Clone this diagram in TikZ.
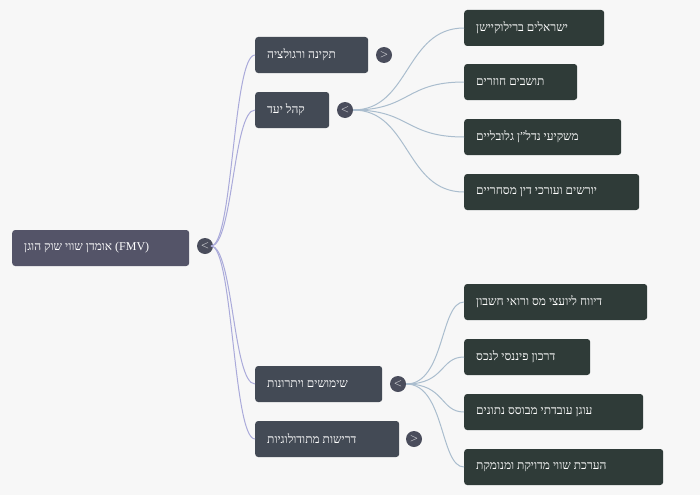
\documentclass[tikz,border=0pt]{standalone}
\usepackage{fontspec}
\setmainfont{Liberation Serif}
\begin{document}
\begin{tikzpicture}[x=1pt,y=-1pt,
  box/.style={rounded corners=3pt,text=white,font=\fontsize{12}{14}\selectfont,inner sep=0pt,align=flush left,anchor=west},
  rootb/.style={box,fill=rootc},
  lvl/.style={box,fill=lvlc},
  leaf/.style={box,fill=leafc},
  tog/.style={circle,fill=togc,text=white,inner sep=0pt,minimum size=16pt,font=\fontsize{11}{11}\selectfont\sffamily},
  e1/.style={draw=linea,line width=1pt},
  e2/.style={draw=lineb,line width=1pt}]
\definecolor{rootc}{HTML}{545468}
\definecolor{lvlc}{HTML}{434A55}
\definecolor{leafc}{HTML}{2F3B38}
\definecolor{togc}{HTML}{4A4D5C}
\definecolor{linea}{HTML}{AAAADA}
\definecolor{lineb}{HTML}{AABDCE}
\fill[fill={rgb,255:red,247;green,247;blue,247}] (0,0) rectangle (700,495);
\useasboundingbox (0,0) rectangle (700,495);
\node[rootb,minimum width=177pt,minimum height=36pt,text width=153pt] (root) at (12,248) {הוגן שוק שווי אומדן (FMV)};
\node[tog] (t0) at (205,246) {<};
\node[lvl,minimum width=113pt,minimum height=36pt,text width=89pt] (a) at (255,55) {ורגולציה תקינה};
\node[tog] (ta) at (384,55) {>};
\node[lvl,minimum width=74pt,minimum height=36pt,text width=50pt] (b) at (255,110) {יעד קהל};
\node[tog] (tb) at (345,110) {<};
\node[lvl,minimum width=127pt,minimum height=36pt,text width=103pt] (c) at (255,384) {ויתרונות שימושים};
\node[tog] (tc) at (398,384) {<};
\node[lvl,minimum width=144pt,minimum height=36pt,text width=120pt] (d) at (255,439) {מתודולוגיות דרישות};
\node[tog] (td) at (414,439) {>};
\node[leaf,minimum width=140pt,minimum height=36pt,text width=116pt] (b1) at (464,28) {ברילוקיישן ישראלים};
\node[leaf,minimum width=113pt,minimum height=36pt,text width=89pt] (b2) at (464,82) {חוזרים תושבים};
\node[leaf,minimum width=157pt,minimum height=36pt,text width=133pt] (b3) at (464,137) {גלובליים נדל"ן משקיעי};
\node[leaf,minimum width=175pt,minimum height=36pt,text width=151pt] (b4) at (464,192) {מסחריים דין ועורכי יורשים};
\node[leaf,minimum width=183pt,minimum height=36pt,text width=159pt] (c1) at (464,302) {חשבון ורואי מס ליועצי דיווח};
\node[leaf,minimum width=126pt,minimum height=36pt,text width=102pt] (c2) at (464,357) {לנכס פיננסי דרכון};
\node[leaf,minimum width=179pt,minimum height=36pt,text width=155pt] (c3) at (464,412) {נתונים מבוסס עובדתי עוגן};
\node[leaf,minimum width=199pt,minimum height=36pt,text width=175pt] (c4) at (464,467) {ומנומקת מדויקת שווי הערכת};
\foreach \n in {a,b,c,d}{
  \draw[e1] (t0.center) ++(6,0) .. controls (233,246) and (233,0|-\n.west) .. (\n.west);
}
\foreach \n in {b1,b2,b3,b4}{
  \draw[e2] (tb.east) .. controls (410,110) and (405,0|-\n.west) .. (\n.west);
}
\foreach \n in {c1,c2,c3,c4}{
  \draw[e2] (tc.east) .. controls (445,384) and (440,0|-\n.west) .. (\n.west);
}
\end{tikzpicture}
\end{document}
